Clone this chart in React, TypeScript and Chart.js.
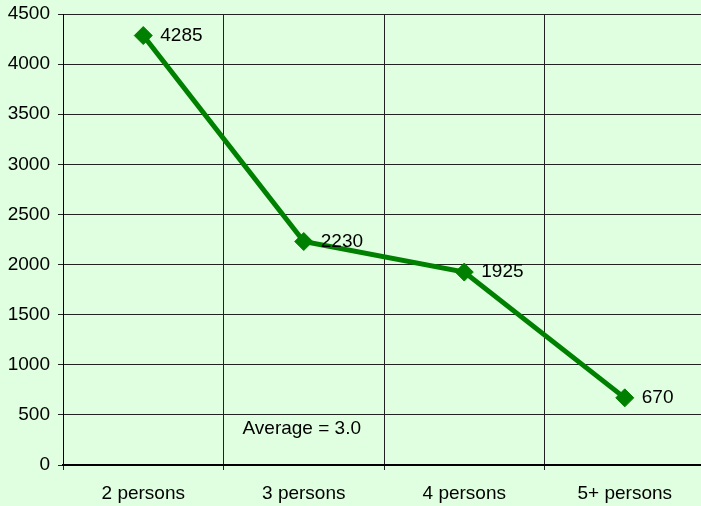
import React, { useEffect, useRef } from "react";
import { Chart, registerables } from "chart.js";

Chart.register(...registerables);

const categories = ["2 persons", "3 persons", "4 persons", "5+ persons"];
const households = [4285, 2230, 1925, 670];
const yTicks = [0, 500, 1000, 1500, 2000, 2500, 3000, 3500, 4000, 4500];
const noteText = "Average = 3.0";
const noteValue = 360;

const BG = "#e0ffe0";
const GREEN = "#008000";
const FONT = "'Liberation Sans', Arial, sans-serif";
const FS = 19;

export default function App() {
  const ref = useRef<HTMLCanvasElement | null>(null);

  useEffect(() => {
    const canvas = ref.current;
    if (!canvas) return;

    const bgPlugin = {
      id: "bg",
      beforeDraw(chart: any) {
        const ctx = chart.ctx;
        ctx.save();
        ctx.fillStyle = BG;
        ctx.fillRect(0, 0, chart.width, chart.height);
        ctx.restore();
      },
    };

    const labelPlugin = {
      id: "labels",
      afterDatasetsDraw(chart: any) {
        const ctx = chart.ctx;
        const meta = chart.getDatasetMeta(0);
        ctx.save();
        ctx.font = `${FS}px ${FONT}`;
        ctx.fillStyle = "#000";
        ctx.textAlign = "left";
        ctx.textBaseline = "middle";
        meta.data.forEach((pt: any, i: number) => {
          ctx.fillText(String(households[i]), pt.x + 17, pt.y);
        });
        const xs = chart.scales.x;
        const ys = chart.scales.y;
        const bx = (xs.getPixelForValue(0) + xs.getPixelForValue(1)) / 2;
        ctx.fillText(noteText, bx + 19, ys.getPixelForValue(noteValue));
        ctx.restore();
      },
    };

    const chart = new Chart(canvas, {
      type: "line",
      data: {
        labels: categories,
        datasets: [
          {
            data: households,
            borderColor: GREEN,
            backgroundColor: GREEN,
            borderWidth: 5,
            pointStyle: "rectRot",
            pointRadius: 9,
            pointBorderWidth: 1,
            pointBackgroundColor: GREEN,
            pointBorderColor: GREEN,
            tension: 0,
          },
        ],
      },
      options: {
        responsive: false,
        animation: false,
        devicePixelRatio: 1,
        layout: { padding: { top: 14, right: 0, left: 0, bottom: 0 } },
        plugins: {
          legend: { display: false },
          tooltip: { enabled: false },
        },
        scales: {
          x: {
            offset: true,
            grid: {
              offset: true,
              color: "#222",
              lineWidth: 1,
              tickLength: 5,
              drawTicks: true,
            },
            border: { color: "#000", width: 2 },
            ticks: {
              color: "#000",
              font: { size: FS, family: FONT },
              padding: 12,
              maxRotation: 0,
            },
            afterFit(scale: any) {
              scale.height = 41;
              scale.paddingLeft = 0;
              scale.paddingRight = 0;
            },
          },
          y: {
            min: 0,
            max: 4500,
            afterBuildTicks(scale: any) {
              scale.ticks = yTicks.map((v) => ({ value: v }));
            },
            grid: {
              color: "#222",
              lineWidth: 1,
              tickLength: 5,
            },
            border: { color: "#000", width: 1 },
            ticks: {
              color: "#000",
              font: { size: FS, family: FONT },
              padding: 8,
              callback: (v: any) => String(v),
            },
            afterFit(scale: any) {
              scale.width = 63;
              scale.paddingTop = 0;
              scale.paddingBottom = 0;
            },
          },
        },
      },
      plugins: [bgPlugin, labelPlugin],
    });

    return () => chart.destroy();
  }, []);

  return (
    <div
      style={{
        position: "fixed",
        left: 0,
        top: 0,
        width: 701,
        height: 506,
        overflow: "hidden",
        background: BG,
      }}
    >
      <canvas ref={ref} width={715} height={506} style={{ display: "block", width: 715, height: 506 }} />
    </div>
  );
}
